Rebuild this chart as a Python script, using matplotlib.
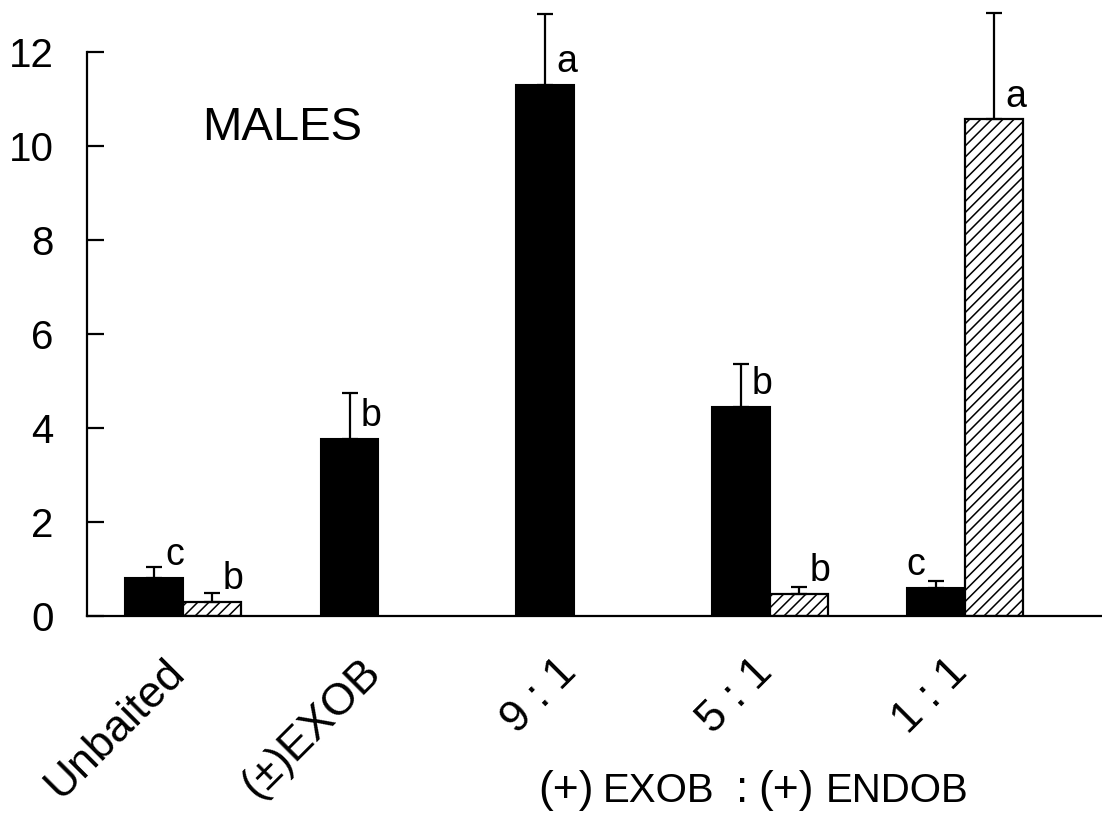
import numpy as np
import matplotlib
matplotlib.use('Agg')
import matplotlib.pyplot as plt
from matplotlib.transforms import ScaledTranslation

plt.rcParams['font.family'] = ['Liberation Sans', 'DejaVu Sans']
plt.rcParams['hatch.linewidth'] = 1.1

# mean trap catch of males per treatment (black = first series, hatched = second)
treatments = ['Unbaited', '(±)EXOB', '9 : 1', '5 : 1', '1 : 1']
black_mean = [0.81, 3.77, 11.30, 4.45, 0.60]
black_se = [0.23, 0.97, 1.51, 0.91, 0.15]
black_letters = ['c', 'b', 'a', 'b', 'c']
hatch_mean = [0.30, None, None, 0.47, 10.57]
hatch_se = [0.19, None, None, 0.15, 2.26]
hatch_letters = ['b', '', '', 'b', 'a']
yticks = [0, 2, 4, 6, 8, 10, 12]

W, H = 1102, 815
fig = plt.figure(figsize=(W / 100, H / 100), dpi=100)
ax = fig.add_axes([87 / W, 199 / H, 1015 / W, 611 / H])

x = np.arange(len(treatments))
w = 0.296

# black bars sit left of each tick, hatched bars right of it
ax.bar(x, black_mean, width=-w, align='edge', color='black', edgecolor='black', linewidth=1.5)
ax.errorbar(x - w / 2, black_mean, yerr=[np.zeros(len(x)), black_se], fmt='none',
            ecolor='black', elinewidth=1.6, capsize=6, capthick=1.6, clip_on=False)

hx = [i for i, v in enumerate(hatch_mean) if v is not None]
hm = [hatch_mean[i] for i in hx]
hs = [hatch_se[i] for i in hx]
ax.bar(hx, hm, width=w, align='edge', color='white', edgecolor='black', hatch='///', linewidth=1.6)
ax.errorbar(np.array(hx) + w / 2, hm, yerr=[np.zeros(len(hx)), hs], fmt='none',
            ecolor='black', elinewidth=1.6, capsize=6, capthick=1.6, clip_on=False)

# significance letters next to bar tops
for i, (m, s) in enumerate(zip(black_mean, black_letters)):
    if s:
        if i == len(x) - 1:
            ax.annotate(s, (x[i] - w / 2, m), xytext=(-8, 9), textcoords='offset points',
                        ha='right', va='baseline', fontsize=27)
        else:
            ax.annotate(s, (x[i] - w / 2, m), xytext=(8, 9), textcoords='offset points',
                        ha='left', va='baseline', fontsize=27)
for i, m in zip(hx, hm):
    ax.annotate(hatch_letters[i], (x[i] + w / 2, m), xytext=(8, 9), textcoords='offset points',
                ha='left', va='baseline', fontsize=27)

ax.text(0.097, 10.13, 'MALES', fontsize=34, ha='left', va='baseline')

ax.set_xlim(-0.490, 4.699)
ax.set_ylim(0, 13)
ax.spines['top'].set_visible(False)
ax.spines['right'].set_visible(False)
ax.spines['left'].set_bounds(0, 12)
ax.spines['left'].set_linewidth(1.6)
ax.spines['bottom'].set_linewidth(1.6)

ax.set_yticks(yticks)
ax.tick_params(axis='y', direction='in', length=12, width=1.6, pad=24, labelsize=29)
ax.set_xticks(x)
ax.set_xticklabels(treatments)
ax.tick_params(axis='x', length=0, pad=42, labelsize=32)
shift = ScaledTranslation(4 / 100, 0, fig.dpi_scale_trans)
for lab in ax.get_xticklabels():
    lab.set_rotation(45)
    lab.set_ha('right')
    lab.set_va('baseline')
    lab.set_rotation_mode('anchor')
    lab.set_transform(lab.get_transform() + shift)

# group title under the ratio labels, mixed sizes like small caps
renderer = fig.canvas.get_renderer()
pieces = [('(+)', 32), ('EXOB', 29), (':', 32), ('(+)', 32), ('ENDOB', 29)]
gaps = [9, 22, 10, 12, 0]
px = 538
for (txt, size), g in zip(pieces, gaps):
    t = fig.text(px / W, 13 / H, txt, fontsize=size, ha='left', va='baseline')
    px += t.get_window_extent(renderer).width + g

fig.savefig('out.png', dpi=100)
